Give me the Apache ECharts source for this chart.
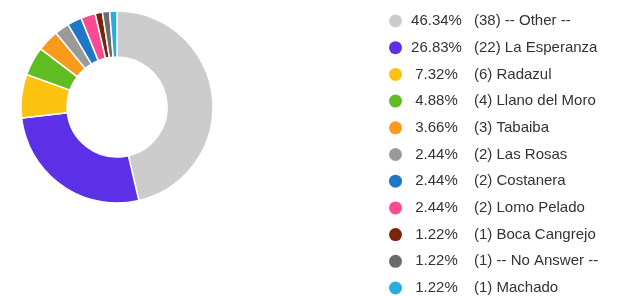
<!DOCTYPE html>
<html>
<head>
<meta charset="utf-8">
<script src="https://cdn.jsdelivr.net/npm/echarts@6/dist/echarts.min.js"></script>
<style>
html,body{margin:0;padding:0;background:#fff;}
#chart{width:617px;height:296px;}
</style>
</head>
<body>
<div id="chart"></div>
<script>
// 分类与数值
var names = ['-- Other --', 'La Esperanza', 'Radazul', 'Llano del Moro', 'Tabaiba', 'Las Rosas', 'Costanera', 'Lomo Pelado', 'Boca Cangrejo', '-- No Answer --', 'Machado'];
var counts = [38, 22, 6, 4, 3, 2, 2, 2, 1, 1, 1];
var percents = ['46.34%', '26.83%', '7.32%', '4.88%', '3.66%', '2.44%', '2.44%', '2.44%', '1.22%', '1.22%', '1.22%'];
var colors = ['#cccccc', '#5b30e6', '#fdc10f', '#5fbd22', '#f99a1d', '#9a9a9a', '#1f78c6', '#fb4a8f', '#7a2408', '#6b6b6b', '#29ade0'];

var data = [];
for (var i = 0; i < names.length; i++) {
	data.push({name: names[i], value: counts[i], itemStyle: {color: colors[i]}});
}

var font = 'Liberation Sans, Arial, sans-serif';
var option = {
	animation: false,
	color: colors,
	legend: {
		orient: 'vertical',
		left: 389,
		top: 13.5,
		padding: 0,
		itemWidth: 13,
		itemHeight: 13,
		itemGap: 11.7,
		icon: 'circle',
		itemStyle: {borderWidth: 0},
		data: names,
		formatter: function (name) {
			var idx = names.indexOf(name);
			return '{p|' + percents[idx] + '}{n|(' + counts[idx] + ') ' + name + '}';
		},
		textStyle: {
			fontFamily: font,
			fontSize: 15,
			lineHeight: 15,
			color: '#333',
			rich: {
				p: {width: 59, align: 'right', fontSize: 15, lineHeight: 15, color: '#333', fontFamily: font},
				n: {padding: [0, 0, 0, 8], fontSize: 15, lineHeight: 15, color: '#333', fontFamily: font}
			}
		}
	},
	series: [{
		type: 'pie',
		center: [117, 107],
		radius: [50, 96],
		startAngle: 90,
		clockwise: true,
		label: {show: false},
		labelLine: {show: false},
		itemStyle: {borderColor: '#fff', borderWidth: 1.5},
		data: data
	}]
};

var myChart = echarts.init(document.getElementById('chart'));
myChart.setOption(option);
</script>
</body>
</html>
